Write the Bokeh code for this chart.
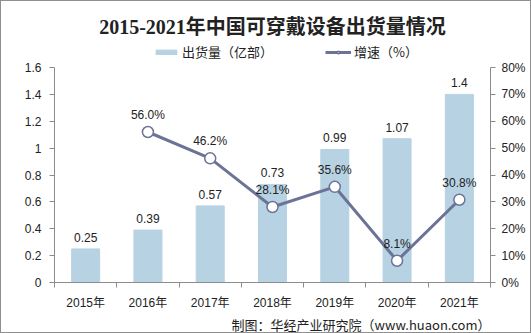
from bokeh.plotting import figure
from bokeh.models import (ColumnDataSource, Range1d, LinearAxis, FixedTicker, CustomJSTickFormatter,
                          PrintfTickFormatter, Legend, LegendItem, LabelSet, Title)
from bokeh.core.properties import value
from bokeh.embed import file_html
from bokeh.resources import INLINE

years = ["2015年", "2016年", "2017年", "2018年", "2019年", "2020年", "2021年"]
shipments = [0.25, 0.39, 0.57, 0.73, 0.99, 1.07, 1.4]
growth_years = ["2016年", "2017年", "2018年", "2019年", "2020年", "2021年"]
growth = [56.0, 46.2, 28.1, 35.6, 8.1, 30.8]
left_ticks = [0, 0.2, 0.4, 0.6, 0.8, 1.0, 1.2, 1.4, 1.6]
right_ticks = [0, 10, 20, 30, 40, 50, 60, 70, 80]
left_max, right_max = 1.6, 80

FONT = "Liberation Sans, Noto Sans CJK SC"
NUM = "Liberation Sans"
CJK = "Noto Sans CJK SC"
BAR = "#B7D2E3"
LINE = "#6B7396"

# frame spans 40..281 px; axis part spans 66..281 px (room for legend on top)
stretch = (281 - 40) / (281 - 66)

xc = [i + 0.5 for i in range(len(years))]
gx = [years.index(y) + 0.5 for y in growth_years]

bar_src = ColumnDataSource(dict(x=xc, v=shipments, t=[f"{v:g}" for v in shipments]))
line_src = ColumnDataSource(dict(x=gx, g=growth, t=[f"{g:.1f}%" for g in growth]))

p = figure(width=531, height=333, output_backend="svg", toolbar_location=None,
           x_range=Range1d(0, len(years)), y_range=Range1d(0, left_max * stretch),
           min_border_left=53, min_border_right=42, min_border_top=40, min_border_bottom=52)
p.styles = {"border": "1px solid #8f8f8f", "box-sizing": "border-box"}
p.extra_y_ranges = {"pct": Range1d(0, right_max * stretch)}
p.xgrid.visible = False
p.ygrid.visible = False
p.outline_line_color = None
p.background_fill_color = "white"
p.border_fill_color = "white"

p.title.text = "2015-2021年中国可穿戴设备出货量情况"
p.title.align = "center"
p.title.text_font = "Liberation Serif, Noto Sans CJK SC"
p.title.text_font_size = "20px"
p.title.text_font_style = "bold"
p.title.text_color = "#222222"
p.title.standoff = 8

bars = p.vbar(x="x", top="v", width=0.45, source=bar_src, color=BAR)
ln = p.line(x="x", y="g", source=line_src, y_range_name="pct", line_color=LINE, line_width=3)
circ = p.scatter(x="x", y="g", source=line_src, y_range_name="pct", size=11,
                 fill_color="white", line_color=LINE, line_width=1.5)

p.add_layout(LabelSet(x="x", y="v", text="t", source=bar_src, text_align="center",
                      text_baseline="bottom", y_offset=7, text_font=value(NUM),
                      text_font_size="12px", text_color="#222222"))
p.add_layout(LabelSet(x="x", y="g", text="t", source=line_src, y_range_name="pct",
                      text_align="center", text_baseline="bottom", y_offset=10,
                      text_font=value(NUM), text_font_size="12px", text_color="#222222"))

# x axis
xa = p.xaxis[0]
xa.ticker = FixedTicker(ticks=xc, minor_ticks=list(range(len(years) + 1)))
xa.formatter = CustomJSTickFormatter(args=dict(labels=years),
                                     code="return labels[Math.floor(tick)];")
xa.major_tick_out = 0
xa.major_tick_in = 0
xa.minor_tick_out = 5
xa.minor_tick_in = 0
xa.minor_tick_line_color = "#8c8c8c"
xa.axis_line_color = "#8c8c8c"
xa.major_label_text_font = FONT
xa.major_label_text_font_size = "12px"
xa.major_label_text_color = "#222222"
xa.major_label_standoff = 8

ya = p.yaxis[0]
ya.ticker = FixedTicker(ticks=left_ticks)
ya.bounds = (0, left_max)
ya.formatter = CustomJSTickFormatter(code="return tick.toFixed(1).replace(/\\.0$/, '');")
ya.major_tick_out = 5
ya.major_tick_in = 0
ya.minor_tick_line_color = None
ya.axis_line_color = "#8c8c8c"
ya.major_tick_line_color = "#8c8c8c"
ya.major_label_text_font = NUM
ya.major_label_text_font_size = "12px"
ya.major_label_text_color = "#222222"
ya.major_label_standoff = 8

ra = LinearAxis(y_range_name="pct", ticker=FixedTicker(ticks=right_ticks),
                formatter=PrintfTickFormatter(format="%d%%"), bounds=(0, right_max))
ra.major_tick_out = 5
ra.major_tick_in = 0
ra.minor_tick_line_color = None
ra.axis_line_color = "#8c8c8c"
ra.major_tick_line_color = "#8c8c8c"
ra.major_label_text_font = NUM
ra.major_label_text_font_size = "12px"
ra.major_label_text_color = "#222222"
ra.major_label_standoff = 6
p.add_layout(ra, "right")

legend = Legend(items=[LegendItem(label="出货量（亿部）", renderers=[bars]),
                       LegendItem(label="增速（%）", renderers=[ln, circ])],
                orientation="horizontal", location=(99, 221),
                label_text_font=CJK, label_text_font_size="13px", label_text_color="#222222",
                glyph_width=26, glyph_height=6, spacing=52, label_standoff=3,
                background_fill_alpha=0, border_line_color=None, padding=0, margin=0)
p.add_layout(legend, "center")

src = Title(text="制图：华经产业研究院（www.huaon.com）", align="right",
            text_font=CJK, text_font_size="13px", text_font_style="normal",
            text_color="#222222", standoff=0)
p.add_layout(src, "below")

open("out.html", "w").write(file_html(p, INLINE))
